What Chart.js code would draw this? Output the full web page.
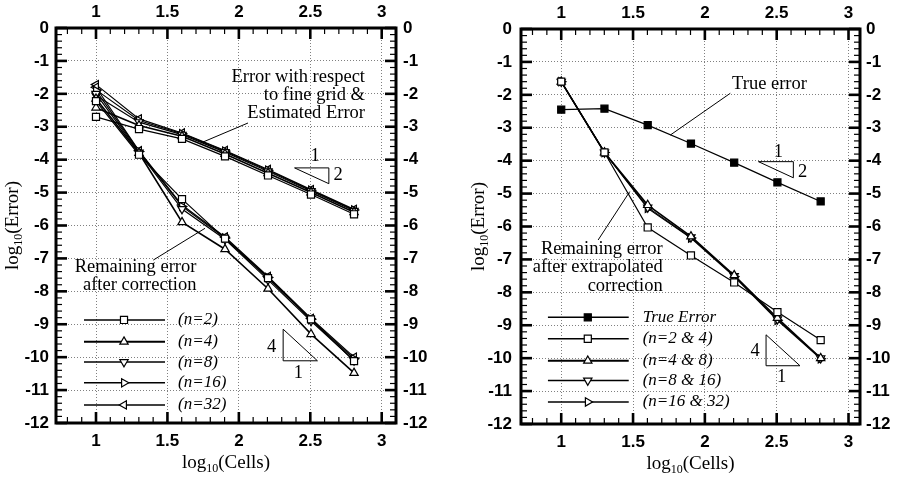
<!DOCTYPE html>
<html>
<head>
<meta charset="utf-8">
<script src="https://cdn.jsdelivr.net/npm/chart.js@4.4.1/dist/chart.umd.min.js"></script>
<style>
  html, body { margin: 0; padding: 0; background: #fff; }
  #wrap { position: relative; width: 904px; height: 481px; overflow: hidden; }
  .panel { position: absolute; top: 0; width: 452px; height: 481px; }
</style>
</head>
<body>
<div id="wrap">
  <div class="panel" style="left:0"><canvas id="left" width="452" height="481"></canvas></div>
  <div class="panel" style="left:452px"><canvas id="right" width="452" height="481"></canvas></div>
</div>
<script>
// ---- data: log10(cells) and log10(error) ----
const cells = [1.0, 1.30103, 1.60206, 1.90309, 2.20412, 2.50515, 2.80618];
const xTicks = [1, 1.5, 2, 2.5, 3];
const yTicks = [0, -1, -2, -3, -4, -5, -6, -7, -8, -9, -10, -11, -12];

// error with respect to fine grid / estimated error
const fineN2  = [-2.70, -3.07, -3.37, -3.90, -4.48, -5.06, -5.66];
const fineN4  = [-2.42, -2.96, -3.29, -3.83, -4.41, -5.00, -5.60];
const fineN8  = [-2.05, -2.86, -3.24, -3.77, -4.35, -4.95, -5.55];
const fineN16 = [-1.88, -2.81, -3.21, -3.74, -4.32, -4.93, -5.53];
const fineN32 = [-1.72, -2.76, -3.19, -3.72, -4.30, -4.91, -5.51];

// remaining error after correction
const corrN2  = [-2.22, -3.85, -5.20, -6.40, -7.60, -8.85, -10.12];
const corrN4  = [-2.15, -3.80, -5.90, -6.72, -7.92, -9.30, -10.48];
const corrN8  = [-2.00, -3.78, -5.50, -6.42, -7.65, -8.90, -10.10];
const corrN16 = [-1.90, -3.75, -5.42, -6.38, -7.58, -8.85, -10.05];
const corrN32 = [-1.80, -3.73, -5.38, -6.35, -7.55, -8.82, -10.00];

// true error and remaining error after extrapolated correction
const trueError   = [-2.45, -2.42, -2.92, -3.48, -4.06, -4.66, -5.24];
const extrapN2_4   = [-1.60, -3.75, -6.03, -6.88, -7.70, -8.60, -9.45];
const extrapN4_8   = [-1.60, -3.75, -5.35, -6.30, -7.48, -8.78, -10.00];
const extrapN8_16  = [-1.60, -3.75, -5.42, -6.33, -7.50, -8.82, -10.00];
const extrapN16_32 = [-1.60, -3.75, -5.45, -6.35, -7.52, -8.85, -10.02];

const leftLabels  = ['(n=2)', '(n=4)', '(n=8)', '(n=16)', '(n=32)'];
const rightLabels = ['True Error', '(n=2 & 4)', '(n=4 & 8)', '(n=8 & 16)', '(n=16 & 32)'];

// ---- marker styles ----
const SQUARE   = { pointStyle: 'rect', rotation: 0, radius: 5 };
const TRI_UP   = { pointStyle: 'triangle', rotation: 0, radius: 4.8 };
const TRI_DOWN = { pointStyle: 'triangle', rotation: 180, radius: 4.8 };
const TRI_RIGHT= { pointStyle: 'triangle', rotation: 90, radius: 4.8 };
const TRI_LEFT = { pointStyle: 'triangle', rotation: 270, radius: 4.8 };

const SANS = '"Liberation Sans", Arial, sans-serif';
const SERIF = '"Liberation Serif", "Times New Roman", serif';

function series(values, marker, filled, lw) {
  return {
    data: cells.map((x, i) => ({ x: x, y: values[i] })),
    borderColor: '#000',
    borderWidth: lw || 1.2,
    pointStyle: marker.pointStyle,
    pointRotation: marker.rotation,
    pointRadius: marker.radius,
    pointHoverRadius: marker.radius,
    pointBackgroundColor: filled ? '#000' : '#fff',
    pointBorderColor: '#000',
    pointBorderWidth: 1.2,
    tension: 0,
    fill: false,
    _marker: marker,
    _filled: !!filled,
    _lw: lw || 1.2
  };
}

// ---- drawing helpers ----
function pos(chart, x, y) {
  return [chart.scales.x.getPixelForValue(x), chart.scales.y.getPixelForValue(y)];
}

function drawMarker(ctx, m, filled, x, y) {
  ctx.save();
  ctx.fillStyle = filled ? '#000' : '#fff';
  ctx.strokeStyle = '#000';
  ctx.lineWidth = 1.2;
  if (Chart.helpers && Chart.helpers.drawPoint) {
    Chart.helpers.drawPoint(ctx, { pointStyle: m.pointStyle, rotation: m.rotation, radius: m.radius, borderWidth: 1.2 }, x, y);
  } else {
    ctx.beginPath();
    ctx.arc(x, y, m.radius, 0, Math.PI * 2);
    ctx.fill(); ctx.stroke();
  }
  ctx.restore();
}

function drawLogTitle(ctx, word, cx, cy, rotate) {
  ctx.save();
  ctx.translate(cx, cy);
  if (rotate) ctx.rotate(-Math.PI / 2);
  const big = '19px ' + SERIF, small = '12px ' + SERIF;
  ctx.font = big; const w1 = ctx.measureText('log').width; const w3 = ctx.measureText(word).width;
  ctx.font = small; const w2 = ctx.measureText('10').width;
  let x = -(w1 + w2 + w3) / 2;
  ctx.fillStyle = '#000';
  ctx.textBaseline = 'middle';
  ctx.textAlign = 'left';
  ctx.font = big; ctx.fillText('log', x, 0); x += w1;
  ctx.font = small; ctx.fillText('10', x, 6); x += w2;
  ctx.font = big; ctx.fillText(word, x, 0);
  ctx.restore();
}

// frame with inward major/minor ticks on all four sides, notes, legend, axis titles
const decorPlugin = {
  id: 'decor',
  afterDraw(chart, args, opts) {
    const { ctx, chartArea: a, scales } = chart;
    const xs = scales.x, ys = scales.y;
    ctx.save();
    ctx.strokeStyle = '#000';
    ctx.lineCap = 'butt';
    const seg = (x1, y1, x2, y2, w) => { ctx.lineWidth = w; ctx.beginPath(); ctx.moveTo(x1, y1); ctx.lineTo(x2, y2); ctx.stroke(); };
    for (let k = 8; k <= 30; k++) {
      const x = xs.getPixelForValue(k / 10);
      const major = k % 5 === 0;
      const L = major ? 11 : 6, w = major ? 2.6 : 1.2;
      seg(x, a.bottom, x, a.bottom - L, w);
      seg(x, a.top, x, a.top + L, w);
    }
    for (let k = 0; k >= -60; k--) {
      const y = ys.getPixelForValue(k / 5);
      const major = k % 5 === 0;
      const L = major ? 11 : 6, w = major ? 2.6 : 1.2;
      seg(a.left, y, a.left + L, y, w);
      seg(a.right, y, a.right - L, y, w);
    }
    ctx.lineWidth = 3;
    ctx.strokeRect(a.left, a.top, a.right - a.left, a.bottom - a.top);

    // notes: leader lines, slope triangles, texts
    const n = opts.notes;
    n.lines.forEach(l => {
      const p1 = pos(chart, l[0][0], l[0][1]), p2 = pos(chart, l[1][0], l[1][1]);
      seg(p1[0], p1[1], p2[0], p2[1], 1);
    });
    n.triangles.forEach(t => {
      ctx.lineWidth = 1;
      ctx.beginPath();
      t.forEach((p, i) => { const q = pos(chart, p[0], p[1]); if (i) ctx.lineTo(q[0], q[1]); else ctx.moveTo(q[0], q[1]); });
      ctx.closePath();
      ctx.stroke();
    });
    ctx.fillStyle = '#000';
    ctx.textBaseline = 'middle';
    n.texts.forEach(t => {
      const p = pos(chart, t.x, t.y);
      ctx.font = (t.size || 18.5) + 'px ' + SERIF;
      ctx.textAlign = t.align || 'center';
      ctx.fillText(t.text, p[0], p[1]);
    });

    // legend
    const lg = opts.legend;
    chart.data.datasets.slice(0, lg.labels.length).forEach((ds, i) => {
      const yv = lg.rows[i];
      const p1 = pos(chart, lg.x1, yv), p2 = pos(chart, lg.x2, yv), pm = pos(chart, lg.xm, yv), pt = pos(chart, lg.xt, yv);
      seg(p1[0], p1[1], p2[0], p2[1], ds._lw + 0.3);
      drawMarker(ctx, ds._marker, ds._filled, pm[0], pm[1]);
      ctx.font = 'italic 17px ' + SERIF;
      ctx.textAlign = 'left';
      ctx.textBaseline = 'middle';
      ctx.fillStyle = '#000';
      ctx.fillText(lg.labels[i], pt[0], pt[1]);
    });

    // axis titles
    drawLogTitle(ctx, '(Cells)', (a.left + a.right) / 2, a.bottom + 40, false);
    drawLogTitle(ctx, '(Error)', opts.yTitleX, (a.top + a.bottom) / 2, true);
    ctx.restore();
  }
};

function axes(area, xMin, xMax, pads) {
  const tickFont = { family: SANS, size: 17, weight: 'bold' };
  const setX = s => { s.ticks = xTicks.map(v => ({ value: v })); };
  const setY = s => { s.ticks = yTicks.map(v => ({ value: v })); };
  const fmt = v => String(v);
  const grid = { color: '#808080', lineWidth: 1, drawTicks: false };
  return {
    x: {
      type: 'linear', position: 'bottom', min: xMin, max: xMax,
      afterBuildTicks: setX, afterFit: s => { s.height = area.bottom; },
      grid: grid, border: { display: false, dash: [1, 2] },
      ticks: { font: tickFont, color: '#000', padding: pads.bottom, callback: fmt, maxRotation: 0, autoSkip: false }
    },
    x2: {
      type: 'linear', position: 'top', min: xMin, max: xMax,
      afterBuildTicks: setX, afterFit: s => { s.height = area.top; },
      grid: { display: false, drawTicks: false }, border: { display: false },
      ticks: { font: tickFont, color: '#000', padding: pads.top, callback: fmt, maxRotation: 0, autoSkip: false }
    },
    y: {
      type: 'linear', position: 'left', min: -12, max: 0,
      afterBuildTicks: setY, afterFit: s => { s.width = area.left; },
      grid: grid, border: { display: false, dash: [1, 2] },
      ticks: { font: tickFont, color: '#000', padding: pads.left, callback: fmt, autoSkip: false }
    },
    y2: {
      type: 'linear', position: 'right', min: -12, max: 0,
      afterBuildTicks: setY, afterFit: s => { s.width = area.right; },
      grid: { display: false, drawTicks: false }, border: { display: false },
      ticks: { font: tickFont, color: '#000', padding: pads.right, callback: fmt, autoSkip: false }
    }
  };
}

function makeChart(id, datasets, area, xMin, xMax, pads, notes, legend, yTitleX) {
  return new Chart(document.getElementById(id), {
    type: 'line',
    data: { datasets: datasets },
    options: {
      responsive: false,
      animation: false,
      events: [],
      layout: { padding: 0 },
      plugins: {
        legend: { display: false },
        tooltip: { enabled: false },
        decor: { notes: notes, legend: legend, yTitleX: yTitleX }
      },
      scales: axes(area, xMin, xMax, pads)
    },
    plugins: [decorPlugin]
  });
}

// ---- left panel ----
const leftSets = [
  series(corrN2, SQUARE), series(corrN4, TRI_UP, false, 1.6), series(corrN8, TRI_DOWN),
  series(corrN16, TRI_RIGHT), series(corrN32, TRI_LEFT),
  series(fineN2, SQUARE), series(fineN4, TRI_UP, false, 1.6), series(fineN8, TRI_DOWN),
  series(fineN16, TRI_RIGHT), series(fineN32, TRI_LEFT)
];
makeChart('left', leftSets, { left: 56, right: 56, top: 28, bottom: 58 }, 0.72, 3.1,
  { top: 5, bottom: 8, left: 7, right: 7 },
  {
    lines: [ [[2.064, -2.886], [1.735, -3.49]], [[1.401, -7.05], [1.763, -6.085]] ],
    triangles: [
      [[2.39, -4.25], [2.63, -4.25], [2.63, -4.73]],
      [[2.31, -9.15], [2.31, -10.11], [2.55, -10.11]]
    ],
    texts: [
      { text: 'Error with respect', x: 2.883, y: -1.50, align: 'right' },
      { text: 'to fine grid &', x: 2.883, y: -2.05, align: 'right' },
      { text: 'Estimated Error', x: 2.883, y: -2.60, align: 'right' },
      { text: 'Remaining error', x: 1.703, y: -7.25, align: 'right' },
      { text: 'after correction', x: 1.703, y: -7.81, align: 'right' },
      { text: '1', x: 2.533, y: -3.89 }, { text: '2', x: 2.694, y: -4.47 },
      { text: '4', x: 2.23, y: -9.70 }, { text: '1', x: 2.416, y: -10.49 }
    ]
  },
  { labels: leftLabels, x1: 0.916, x2: 1.483, xm: 1.196, xt: 1.574, rows: [-8.87, -9.53, -10.15, -10.78, -11.45] },
  13
);

// ---- right panel ----
const rightSets = [
  series(trueError, SQUARE, true), series(extrapN2_4, SQUARE), series(extrapN4_8, TRI_UP, false, 1.6),
  series(extrapN8_16, TRI_DOWN), series(extrapN16_32, TRI_RIGHT)
];
makeChart('right', rightSets, { left: 69, right: 44, top: 29, bottom: 57 }, 0.72, 3.08,
  { top: 5, bottom: 8, left: 9, right: 6 },
  {
    lines: [ [[2.177, -1.953], [1.76, -3.22]], [[1.257, -6.41], [1.477, -4.94]] ],
    triangles: [
      [[2.373, -4.03], [2.616, -4.03], [2.616, -4.52]],
      [[2.426, -9.29], [2.426, -10.23], [2.662, -10.23]]
    ],
    texts: [
      { text: 'True error', x: 2.45, y: -1.68 },
      { text: 'Remaining error', x: 1.706, y: -6.69, align: 'right' },
      { text: 'after extrapolated', x: 1.706, y: -7.24, align: 'right' },
      { text: 'correction', x: 1.706, y: -7.80, align: 'right' },
      { text: '1', x: 2.512, y: -3.73 }, { text: '2', x: 2.68, y: -4.335 },
      { text: '4', x: 2.35, y: -9.80 }, { text: '1', x: 2.535, y: -10.58 }
    ]
  },
  { labels: rightLabels, x1: 0.9075, x2: 1.47, xm: 1.185, xt: 1.567, rows: [-8.76, -9.41, -10.08, -10.68, -11.33] },
  27
);
</script>
</body>
</html>
